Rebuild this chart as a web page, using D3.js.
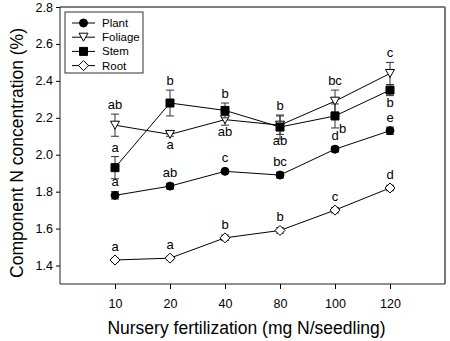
<!DOCTYPE html>
<html>
<head>
<meta charset="utf-8">
<script src="https://cdn.jsdelivr.net/npm/d3@7"></script>
<style>
  body { margin: 0; background: #fff; }
  svg { font-family: "Liberation Sans", Arial, sans-serif; }
</style>
</head>
<body>
<svg id="chart" width="450" height="341"></svg>
<script>
const rates = ['10', '20', '40', '80', '100', '120'];
const yTicks = [1.4, 1.6, 1.8, 2.0, 2.2, 2.4, 2.6, 2.8];

// mean N concentration (%) and standard error per component
const plant = [1.78, 1.83, 1.91, 1.89, 2.03, 2.13];
const plantErr = [0.02, 0.015, 0.01, 0.015, 0.015, 0.02];
const foliage = [2.16, 2.11, 2.19, 2.16, 2.29, 2.44];
const foliageErr = [0.06, 0.01, 0.03, 0.05, 0.06, 0.06];
const stem = [1.93, 2.28, 2.24, 2.15, 2.21, 2.35];
const stemErr = [0.06, 0.07, 0.04, 0.065, 0.065, 0.03];
const root = [1.43, 1.44, 1.55, 1.59, 1.70, 1.82];
const rootErr = [0.01, 0.01, 0.015, 0.015, 0.015, 0.015];

// significance letters and whether they sit above or below the mark
const plantLetters = ['a', 'ab', 'c', 'bc', 'd', 'e'];
const foliageLetters = ['ab', 'a', 'ab', 'ab', 'bc', 'c'];
const foliageSide = ['up', 'down', 'down', 'down', 'up', 'up'];
const stemLetters = ['a', 'b', 'b', 'b', 'b', 'b'];
const stemSide = ['up', 'up', 'up', 'up', 'downright', 'down'];
const rootLetters = ['a', 'a', 'b', 'b', 'c', 'd'];

const triPath = 'M-4.5,-4L4.5,-4L0,4Z';
const diamondPath = 'M0,-5L5,0L0,5L-5,0Z';

const series = [
  { name: 'Plant', values: plant, err: plantErr, letters: plantLetters, sides: null, shape: d3.symbol(d3.symbolCircle, 50)(), fill: '#000' },
  { name: 'Foliage', values: foliage, err: foliageErr, letters: foliageLetters, sides: foliageSide, shape: triPath, fill: '#fff' },
  { name: 'Stem', values: stem, err: stemErr, letters: stemLetters, sides: stemSide, shape: d3.symbol(d3.symbolSquare, 64)(), fill: '#000' },
  { name: 'Root', values: root, err: rootErr, letters: rootLetters, sides: null, shape: diamondPath, fill: '#fff' }
];

const svg = d3.select('#chart');
const margin = { left: 60, right: 5, top: 7, bottom: 57 };
const width = 450 - margin.left - margin.right;
const height = 341 - margin.top - margin.bottom;

const x = d3.scalePoint().domain(rates).range([0, width]).padding(1);
const y = d3.scaleLinear().domain([1.3, 2.8]).range([height, 0]);

const g = svg.append('g').attr('transform', `translate(${margin.left},${margin.top})`);

// frame: top and right edges drawn a little greyer
g.append('line').attr('x1', 0).attr('x2', width).attr('y1', 0).attr('y2', 0)
  .attr('stroke', '#555').attr('stroke-width', 1.5);
g.append('line').attr('x1', width).attr('x2', width).attr('y1', 0).attr('y2', height)
  .attr('stroke', '#777').attr('stroke-width', 2);

const yAxis = g.append('g')
  .call(d3.axisLeft(y).tickValues(yTicks).tickFormat(d3.format('.1f')).tickSize(4).tickPadding(3));
yAxis.select('.domain').attr('d', `M0,0V${height}`).attr('stroke', '#222');
yAxis.selectAll('text').attr('font-size', 12.5).attr('fill', '#000');

const xAxis = g.append('g').attr('transform', `translate(0,${height})`)
  .call(d3.axisBottom(x).tickSize(5).tickPadding(10));
xAxis.select('.domain').attr('d', `M0,0H${width}`).attr('stroke', '#222');
xAxis.selectAll('text').attr('font-size', 12.5).attr('fill', '#000');

svg.append('text')
  .attr('x', margin.left + width / 2 - 6).attr('y', 334)
  .attr('text-anchor', 'middle').attr('font-size', 17.5)
  .text('Nursery fertilization (mg N/seedling)');

svg.append('text')
  .attr('transform', 'translate(23,153) rotate(-90)')
  .attr('text-anchor', 'middle').attr('font-size', 17.5)
  .text('Component N concentration (%)');

const drawSymbol = (sel, s) => {
  sel.append('path').attr('d', s.shape)
    .attr('fill', s.fill).attr('stroke', '#000').attr('stroke-width', 1);
};

const line = d3.line().x((d, i) => x(rates[i])).y(d => y(d));

// lines first, then error bars and markers on top
series.forEach(s => {
  g.append('path').datum(s.values)
    .attr('d', line).attr('fill', 'none').attr('stroke', '#000').attr('stroke-width', 1);
});

series.forEach(s => {
  const grp = g.append('g').attr('class', s.name);
  s.values.forEach((v, i) => {
    const cx = x(rates[i]);
    const y0 = y(v - s.err[i]);
    const y1 = y(v + s.err[i]);
    const eb = grp.append('g').attr('stroke', '#333').attr('stroke-width', 1);
    eb.append('line').attr('x1', cx).attr('x2', cx).attr('y1', y0).attr('y2', y1);
    eb.append('line').attr('x1', cx - 4).attr('x2', cx + 4).attr('y1', y0).attr('y2', y0);
    eb.append('line').attr('x1', cx - 4).attr('x2', cx + 4).attr('y1', y1).attr('y2', y1);

    const m = grp.append('g').attr('transform', `translate(${cx},${y(v)})`);
    drawSymbol(m, s);

    const side = s.sides ? s.sides[i] : 'up';
    const lbl = grp.append('text').attr('font-size', 13).attr('text-anchor', 'middle').text(s.letters[i]);
    if (side === 'up') {
      lbl.attr('x', cx).attr('y', Math.min(y1, y(v) - 4) - 5);
    } else if (side === 'down') {
      lbl.attr('x', cx).attr('y', Math.max(y0, y(v) + 4) + 11);
    } else {
      lbl.attr('x', cx + 4).attr('y', y0 + 5).attr('text-anchor', 'start');
    }
  });
});

// legend
const legend = svg.append('g').attr('transform', 'translate(65,12)');
legend.append('rect').attr('width', 78).attr('height', 61)
  .attr('fill', '#fff').attr('stroke', '#333').attr('stroke-width', 1);
series.forEach((s, i) => {
  const row = legend.append('g').attr('transform', `translate(0,${11 + i * 14.2})`);
  row.append('line').attr('x1', 7).attr('x2', 30).attr('stroke', '#000');
  const m = row.append('g').attr('transform', 'translate(18.5,0)');
  drawSymbol(m, s);
  row.append('text').attr('x', 37).attr('y', 4).attr('font-size', 11.5).text(s.name);
});
</script>
</body>
</html>
